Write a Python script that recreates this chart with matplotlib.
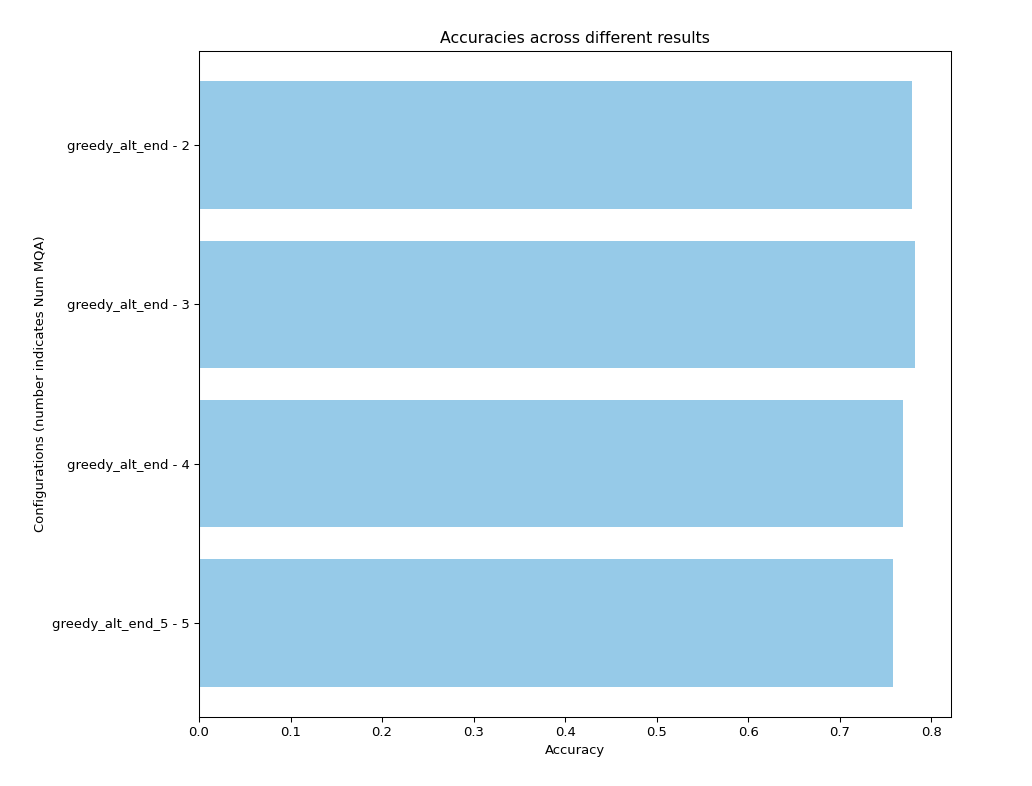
import matplotlib
matplotlib.use("Agg")
import matplotlib.pyplot as plt

configs = ["greedy_alt_end - 2", "greedy_alt_end - 3", "greedy_alt_end - 4", "greedy_alt_end_5 - 5"]
accuracies = [0.7792, 0.7825, 0.769, 0.7585]

DPI = 94.4
fig = plt.figure(figsize=(1032/DPI, 786/DPI), dpi=DPI)
ax = fig.add_axes([199/1032, 1-717/786, (951-199)/1032, (717-51)/786])
ax.barh(configs, accuracies, color="#96cae8")
ax.invert_yaxis()
ax.set_xlabel("Accuracy")
ax.set_ylabel("Configurations (number indicates Num MQA)")
ax.set_title("Accuracies across different results")
fig.savefig("out.png", dpi=DPI)
